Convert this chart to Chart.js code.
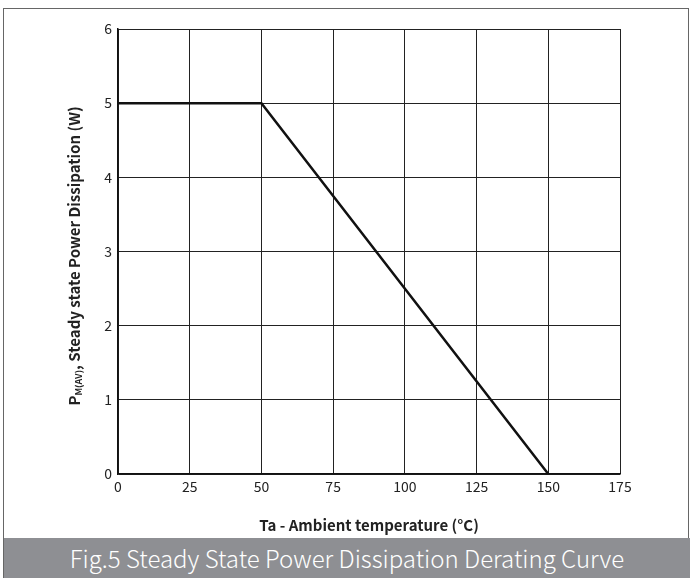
<!DOCTYPE html>
<html><head><meta charset="utf-8">
<script src="https://cdn.jsdelivr.net/npm/chart.js@4.4.0/dist/chart.umd.min.js"></script>
<style>
html,body{margin:0;padding:0;background:#fff;width:691px;height:578px;overflow:hidden;font-family:"Noto Sans CJK SC","Noto Sans",sans-serif;}
#frame{position:absolute;left:3px;top:8px;width:686px;height:570px;border:1px solid #666;border-bottom:none;box-sizing:border-box;}
#wrap{position:absolute;left:0;top:0;width:691px;height:538px;}
#cap{position:absolute;left:4px;top:538px;width:686px;height:40px;background:#8e8f93;color:#fff;font-size:24px;font-weight:300;text-align:center;line-height:40px;}
</style></head><body>
<div id="frame"></div>
<div id="wrap"><canvas id="c"></canvas></div>
<div id="cap">Fig.5 Steady State Power Dissipation Derating Curve</div>
<script>
const temperature = [0, 50, 150];
const power = [5, 5, 0];
const xTicks = [0, 25, 50, 75, 100, 125, 150, 175];
const yTicks = [0, 1, 2, 3, 4, 5, 6];
const xTitle = 'Ta - Ambient temperature (°C)';
const yTitleMain = 'P';
const yTitleSub = 'M(AV)';
const yTitleRest = ', Steady state Power Dissipation (W)';
const FONT = '"Noto Sans CJK SC","Noto Sans",sans-serif';

const yTitlePlugin = {
  id: 'yTitle',
  afterDraw(chart) {
    const ctx = chart.ctx;
    ctx.save();
    ctx.translate(74, 256);
    ctx.rotate(-Math.PI / 2);
    ctx.fillStyle = '#222';
    ctx.textBaseline = 'middle';
    const big = 'bold 15px ' + FONT, small = 'bold 9px ' + FONT;
    ctx.font = big; const w1 = ctx.measureText(yTitleMain).width;
    ctx.font = small; const w2 = ctx.measureText(yTitleSub).width;
    ctx.font = big; const w3 = ctx.measureText(yTitleRest).width;
    let x = -(w1 + w2 + w3) / 2;
    ctx.font = big; ctx.textAlign = 'left';
    ctx.fillText(yTitleMain, x, 0); x += w1;
    ctx.font = small; ctx.fillText(yTitleSub, x, 5); x += w2;
    ctx.font = big; ctx.fillText(yTitleRest, x, 0);
    ctx.restore();
  }
};

new Chart(document.getElementById('c'), {
  type: 'line',
  data: {
    datasets: [{
      data: temperature.map((t, i) => ({x: t, y: power[i]})),
      borderColor: '#111', borderWidth: 2.5, pointRadius: 0, fill: false, tension: 0
    }]
  },
  options: {
    responsive: true, maintainAspectRatio: false, animation: false,
    layout: {padding: {top: 29, right: 71, bottom: 0, left: 0}},
    plugins: {legend: {display: false}, tooltip: {enabled: false}},
    scales: {
      x: {
        type: 'linear', min: 0, max: 175,
        afterBuildTicks: s => { s.ticks = xTicks.map(v => ({value: v})); },
        afterFit: s => { s.height = 64; },
        grid: {color: '#222', lineWidth: 1, drawTicks: false},
        border: {color: '#111', width: 1.5},
        ticks: {color: '#222', font: {family: FONT, size: 14}, padding: 4, maxRotation: 0},
        title: {display: true, text: xTitle, color: '#222', font: {family: FONT, size: 15, weight: 'bold'}, padding: {top: 6}}
      },
      y: {
        min: 0, max: 6,
        afterBuildTicks: s => { s.ticks = yTicks.map(v => ({value: v})); },
        afterFit: s => { s.width = 118; },
        grid: {color: '#222', lineWidth: 1, drawTicks: false},
        border: {color: '#111', width: 1.5},
        ticks: {color: '#222', font: {family: FONT, size: 14}, padding: 6}
      }
    }
  },
  plugins: [yTitlePlugin]
});
</script>
</body></html>
